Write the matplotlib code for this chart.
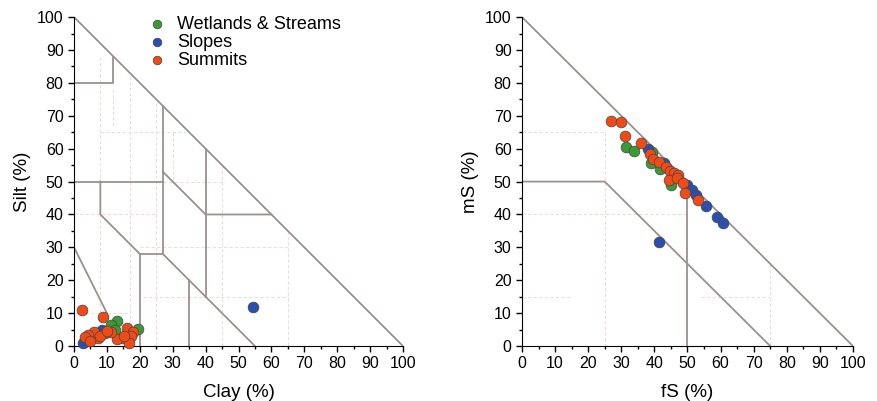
import numpy as np
import matplotlib
matplotlib.use('Agg')
import matplotlib.pyplot as plt
from matplotlib.ticker import MultipleLocator

plt.rcParams['font.family'] = ['Liberation Sans', 'DejaVu Sans']

# ---------------------------------------------------------
# Data: left triangle (Clay vs Silt)
# ---------------------------------------------------------
wet_clay = [13.0, 11.1, 19.5, 12.5]
wet_silt = [7.7, 6.4, 5.3, 4.9]

slope_clay = [54.3, 8.4, 2.8]
slope_silt = [12.0, 5.0, 1.0]

summit_clay = [2.3, 8.9, 16.2, 18.0, 17.4, 15.0, 16.8, 13.0, 11.1, 9.4,
               7.4, 6.1, 4.4, 3.3, 4.9, 7.9, 15.3, 10.0]
summit_silt = [10.9, 8.7, 5.4, 4.2, 3.1, 2.3, 1.0, 2.2, 4.2, 3.9,
               2.6, 4.2, 3.3, 2.8, 1.5, 3.0, 3.0, 4.6]

# ---------------------------------------------------------
# Data: right triangle (fS vs mS)
# ---------------------------------------------------------
wet_fs = [31.5, 33.9, 39.3, 39.0, 41.7, 44.9]
wet_ms = [60.6, 59.4, 59.0, 55.5, 53.7, 49.1]

slope_fs = [38.0, 43.0, 49.8, 51.3, 52.5, 55.6, 58.8, 60.6, 41.4]
slope_ms = [59.9, 55.5, 48.9, 47.4, 45.9, 42.6, 39.3, 37.3, 31.7]

summit_fs = [26.8, 29.8, 31.2, 36.0, 38.7, 39.5, 41.5, 43.4, 44.7, 45.8,
             47.2, 44.5, 46.7, 48.5, 49.2, 53.1]
summit_ms = [68.5, 68.1, 63.9, 61.8, 58.4, 57.0, 56.1, 54.5, 53.3, 52.7,
             52.0, 50.5, 51.0, 49.7, 46.6, 44.4]

# class boundaries (solid) and sub-class boundaries (dashed)
left_solid = [
    [(0, 100), (100, 0)],
    [(0, 80), (12, 80), (12, 88)],
    [(0, 50), (27, 50)],
    [(27, 73), (27, 28), (20, 28), (20, 0)],
    [(8, 50), (8, 40), (20, 28)],
    [(27, 28), (55, 0)],
    [(27, 53), (40, 40), (60, 40)],
    [(40, 60), (40, 15)],
    [(35, 20), (35, 0)],
    [(0, 30), (10, 10)],
]
left_dashed = [
    [(8, 88), (8, 50)], [(17, 82), (17, 0)], [(25, 74), (25, 0)],
    [(30, 65), (30, 50)], [(12, 78), (12, 67)], [(45, 55), (45, 0)],
    [(65, 35), (65, 0)], [(8, 65), (34, 65)], [(27, 50), (45, 50)],
    [(0, 40), (25, 40)], [(20, 30), (65, 30)], [(21, 15), (65, 15)],
    [(0, 10), (17, 10)], [(8, 40), (8, 0)],
]
right_solid = [
    [(0, 100), (100, 0)],
    [(0, 50), (25, 50), (75, 0)],
    [(50, 50), (50, 0)],
]
right_dashed = [
    [(0, 65), (25, 65)], [(0, 40), (50, 40)], [(0, 15), (15, 15)],
    [(54, 15), (75, 15)], [(25, 65), (25, 0)], [(75, 25), (75, 0)],
]

GREEN = '#3a9a35'
BLUE = '#2a4fae'
ORANGE = '#f04b17'
LINE = '#9b9090'
DASH = '#f1dcdc'

fig = plt.figure(figsize=(8.78, 4.01), dpi=100)
ax1 = fig.add_axes([0.0843, 0.137, 0.3747, 0.8204])
ax2 = fig.add_axes([0.5945, 0.137, 0.3770, 0.8204])


def draw_lines(ax, solid, dashed):
    for seg in dashed:
        xs, ys = zip(*seg)
        ax.plot(xs, ys, color=DASH, lw=0.8, ls=(0, (3, 2)), zorder=1)
    for seg in solid:
        xs, ys = zip(*seg)
        ax.plot(xs, ys, color=LINE, lw=1.3, zorder=2)


def style_axes(ax, xlabel, ylabel):
    ax.set_xlim(0, 100)
    ax.set_ylim(0, 100)
    ax.spines['top'].set_visible(False)
    ax.spines['right'].set_visible(False)
    ax.xaxis.set_major_locator(MultipleLocator(10))
    ax.yaxis.set_major_locator(MultipleLocator(10))
    ax.xaxis.set_minor_locator(MultipleLocator(5))
    ax.yaxis.set_minor_locator(MultipleLocator(5))
    ax.tick_params(which='major', length=4, width=1, labelsize=11.5, direction='out')
    ax.tick_params(which='minor', length=2.5, width=1, direction='out')
    ax.set_xlabel(xlabel, fontsize=13.5, labelpad=9)
    ax.set_ylabel(ylabel, fontsize=13.5, labelpad=4)


def draw_points(ax, data):
    for (x, y, c, lab) in data:
        ax.scatter(x, y, s=60, c=c, edgecolors='#444444', linewidths=0.5,
                   zorder=3, clip_on=False, label=lab)


draw_lines(ax1, left_solid, left_dashed)
draw_points(ax1, [(wet_clay, wet_silt, GREEN, 'Wetlands & Streams'),
                  (slope_clay, slope_silt, BLUE, 'Slopes'),
                  (summit_clay, summit_silt, ORANGE, 'Summits')])
style_axes(ax1, 'Clay (%)', 'Silt (%)')
ax1.legend(loc='upper left', bbox_to_anchor=(0.148, 1.052), frameon=False,
           fontsize=13, handletextpad=0.12, labelspacing=0.05,
           scatterpoints=1, markerscale=0.8)

draw_lines(ax2, right_solid, right_dashed)
draw_points(ax2, [(wet_fs, wet_ms, GREEN, None),
                  (slope_fs, slope_ms, BLUE, None),
                  (summit_fs, summit_ms, ORANGE, None)])
style_axes(ax2, 'fS (%)', 'mS (%)')

fig.savefig('out.png', dpi=100)
